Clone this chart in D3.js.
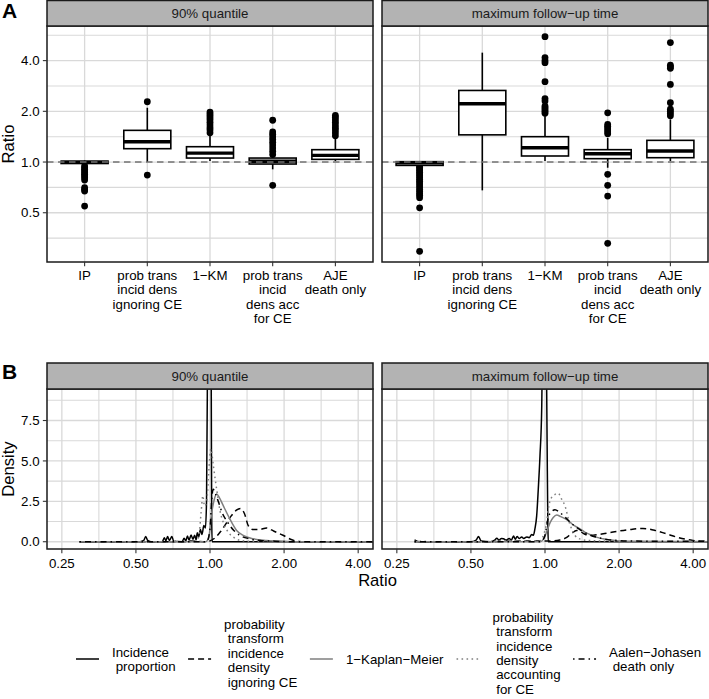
<!DOCTYPE html>
<html><head><meta charset="utf-8">
<script src="https://cdn.jsdelivr.net/npm/d3@7"></script>
<style>body{margin:0;background:#fff} svg{display:block} text{font-family:"Liberation Sans",Arial,Helvetica,sans-serif}</style>
</head><body>
<svg id="c" width="709" height="699"></svg>
<script>
// ---------------- DATA ----------------
const facets = ["90% quantile", "maximum follow\u2212up time"];
const categories = ["IP", "prob trans\nincid dens\nignoring CE", "1\u2212KM", "prob trans\nincid\ndens acc\nfor CE", "AJE\ndeath only"];
const yTicksA = [0.5, 1, 2, 4];
const yTickLabelsA = ["0.5", "1.0", "2.0", "4.0"];
const xTicksB = [0.25, 0.5, 1, 2, 4];
const xTickLabelsB = ["0.25", "0.50", "1.00", "2.00", "4.00"];
const yTicksB = [0, 2.5, 5, 7.5];
const yTickLabelsB = ["0.0", "2.5", "5.0", "7.5"];

// boxplot stats, 90% quantile facet (per category)
const lo_90  = [0.955, 1.0,   1.014, 0.905, 1.014];
const q1_90  = [0.980, 1.20,  1.056, 0.973, 1.037];
const med_90 = [0.995, 1.32,  1.13,  1.01,  1.095];
const q3_90  = [1.012, 1.542, 1.233, 1.056, 1.184];
const hi_90  = [1.02,  2.10,  1.46,  1.095, 1.395];
const out_90 = [
  [0.947, 0.925, 0.905, 0.885, 0.864, 0.845, 0.826, 0.807, 0.782, 0.704, 0.688, 0.673, 0.548],
  [2.28, 0.837],
  [1.98, 1.93, 1.88, 1.83, 1.78, 1.72, 1.66, 1.60, 1.55, 1.49],
  [1.77, 1.51, 1.46, 1.41, 1.36, 1.31, 1.26, 1.21, 1.16, 1.11, 0.727],
  [1.89, 1.84, 1.78, 1.72, 1.66, 1.60, 1.55, 1.49, 1.43]
];
// boxplot stats, maximum follow-up time facet
const lo_max  = [0.94,  0.679, 1.014, 0.925, 1.014];
const q1_max  = [0.955, 1.45,  1.086, 1.047, 1.061];
const med_max = [0.99,  2.22,  1.216, 1.12,  1.162];
const q3_max  = [1.005, 2.66,  1.414, 1.184, 1.345];
const hi_max  = [1.01,  4.46,  1.92,  1.39,  1.79];
const out_max = [
  [0.947, 0.93, 0.91, 0.89, 0.87, 0.85, 0.83, 0.81, 0.79, 0.77, 0.75, 0.73, 0.71, 0.69, 0.67, 0.65, 0.635, 0.614, 0.535, 0.295],
  [],
  [1.95, 2.0, 2.05, 2.1, 2.15, 2.30, 2.38, 3.0, 3.89, 4.01, 4.17, 5.55],
  [1.96, 1.67, 1.63, 1.59, 1.55, 1.51, 1.47, 0.845, 0.727, 0.628, 0.329],
  [1.88, 1.94, 2.0, 2.06, 2.25, 2.89, 3.6, 3.68, 3.76, 5.12]
];

// density curves [ratio, density], 90% quantile facet
const dens90_IP = [[0.295,0],[0.52,0],[0.538,0.08],[0.548,0.33],[0.558,0.08],[0.575,0],[0.64,0],[0.652,0.25],[0.662,0.06],[0.672,0.32],[0.684,0.08],[0.700,0.33],[0.712,0.03],[0.77,0],[0.785,0.22],[0.797,0.05],[0.81,0.35],[0.822,0.1],[0.838,0.42],[0.852,0.15],[0.866,0.4],[0.878,0.12],[0.888,0.55],[0.9,0.3],[0.914,0.75],[0.928,0.45],[0.944,1.0],[0.958,0.85],[0.968,2.5],[0.975,9.0],[0.982,20],[0.995,30],[1.006,20],[1.012,9],[1.016,1.5],[1.02,0],[5.55,0]];
const dens90_PTign = [[0.295,0],[0.8,0],[0.837,0.05],[0.9,0.02],[0.98,0],[1.0,0.05],[1.04,0.2],[1.1,0.6],[1.16,1.1],[1.22,1.6],[1.28,1.95],[1.33,2.05],[1.38,1.75],[1.43,1.0],[1.5,0.75],[1.58,0.75],[1.7,0.85],[1.82,0.65],[1.98,0.4],[2.15,0.12],[2.3,0.02],[2.45,0],[5.55,0]];
const dens90_KM = [[0.295,0],[0.96,0],[0.99,0.3],[1.01,1.5],[1.04,2.6],[1.065,2.95],[1.09,2.75],[1.132,2.23],[1.205,1.4],[1.283,0.7],[1.364,0.39],[1.5,0.18],[1.7,0.08],[2.0,0.03],[2.3,0],[5.55,0]];
const dens90_PTacc = [[0.295,0],[0.7,0],[0.727,0.05],[0.75,0],[0.86,0],[0.9,0.3],[0.92,1.8],[0.935,2.85],[0.95,2.2],[0.97,2.5],[0.99,4.5],[1.008,5.75],[1.03,4.8],[1.05,3.86],[1.074,2.84],[1.098,1.92],[1.132,1.2],[1.186,0.59],[1.243,0.29],[1.32,0.09],[1.45,0.03],[1.6,0.02],[1.8,0.01],[2.0,0],[5.55,0]];
const dens90_AJE = [[0.295,0],[0.97,0],[1.0,0.8],[1.015,2.5],[1.03,3.25],[1.05,3.0],[1.08,2.5],[1.12,1.8],[1.18,1.2],[1.25,0.7],[1.32,0.4],[1.45,0.18],[1.6,0.08],[1.8,0.04],[2.0,0.01],[2.2,0],[5.55,0]];
// density curves, maximum follow-up time facet
const densMax_IP = [[0.295,0.12],[0.31,0],[0.5,0],[0.525,0.1],[0.537,0.33],[0.55,0.05],[0.6,0],[0.625,0.1],[0.637,0.22],[0.65,0.1],[0.665,0.2],[0.678,0.18],[0.695,0.1],[0.715,0.2],[0.73,0.1],[0.745,0.35],[0.758,0.15],[0.77,0.33],[0.785,0.2],[0.804,0.3],[0.82,0.2],[0.843,0.3],[0.862,0.25],[0.883,0.45],[0.897,0.4],[0.91,0.8],[0.925,1.6],[0.939,3.25],[0.954,5.3],[0.97,8.4],[0.98,14],[0.99,20],[1.0,20],[1.01,14],[1.02,6],[1.027,1],[1.031,0],[5.55,0]];
const densMax_PTign = [[0.295,0],[0.6,0],[0.68,0.03],[0.8,0.04],[0.95,0.05],[1.05,0.05],[1.15,0.1],[1.22,0.25],[1.28,0.5],[1.344,0.7],[1.4,0.6],[1.46,0.45],[1.52,0.4],[1.65,0.45],[1.89,0.6],[2.2,0.75],[2.5,0.82],[2.8,0.7],[3.11,0.49],[3.5,0.25],[3.99,0.08],[4.4,0.03],[5.0,0.01],[5.55,0]];
const densMax_KM = [[0.295,0],[0.96,0],[0.99,0.2],[1.02,0.7],[1.05,1.2],[1.08,1.5],[1.115,1.66],[1.16,1.55],[1.2,1.45],[1.243,1.31],[1.3,1.05],[1.386,0.8],[1.45,0.6],[1.52,0.45],[1.6,0.3],[1.72,0.18],[1.85,0.1],[2.0,0.05],[2.3,0.03],[3.0,0.02],[4.0,0.01],[5.55,0]];
const densMax_PTacc = [[0.295,0],[0.32,0.03],[0.34,0],[0.6,0],[0.628,0.04],[0.727,0.04],[0.845,0.05],[0.95,0.05],[0.99,0.5],[1.016,1.21],[1.031,2.02],[1.048,2.53],[1.064,2.74],[1.088,2.88],[1.132,3.0],[1.168,2.64],[1.205,2.23],[1.255,1.2],[1.29,0.7],[1.323,0.39],[1.4,0.15],[1.5,0.08],[1.6,0.06],[1.8,0.03],[2.0,0.01],[2.2,0],[5.55,0]];
const densMax_AJE = [[0.295,0],[0.96,0],[0.98,0.1],[1.0,0.4],[1.031,1.5],[1.064,1.86],[1.098,1.98],[1.14,1.85],[1.2,1.55],[1.3,1.05],[1.4,0.7],[1.5,0.45],[1.65,0.25],[1.8,0.13],[2.0,0.07],[2.3,0.04],[2.9,0.03],[3.7,0.03],[5.12,0.01],[5.55,0]];

const legendLabels = ["Incidence\n proportion", "probability\n transform\n incidence\n density\n ignoring CE", "1\u2212Kaplan\u2212Meier", "probability\n transform\n incidence\n density\n accounting\n for CE", "Aalen\u2212Johasen\n death only"];

// ---------------- STYLE / LAYOUT ----------------
const seriesStyle = [
  {color:"#000000", dash:null},
  {color:"#000000", dash:"6,4"},
  {color:"#7f7f7f", dash:null},
  {color:"#7f7f7f", dash:"1.6,3.4"},
  {color:"#000000", dash:"1.5,4,6,4"}
];
const panelX = [[47, 373], [382, 708]];
const A = {stripTop: 0.5, top: 26, bottom: 262};
const B = {stripTop: 363, top: 389, bottom: 549};
const gridCol = "#d9d9d9", stripFill = "#b3b3b3", borderCol = "#1a1a1a";
const tickFs = 13.3, titleFs = 16.6, tickLen = 4.15;

const svg = d3.select("#c");
const defs = svg.append("defs");

const boxStats = [
  {lo: lo_90, q1: q1_90, med: med_90, q3: q3_90, hi: hi_90, out: out_90},
  {lo: lo_max, q1: q1_max, med: med_max, q3: q3_max, hi: hi_max, out: out_max}
];
const densities = [
  [dens90_IP, dens90_PTign, dens90_KM, dens90_PTacc, dens90_AJE],
  [densMax_IP, densMax_PTign, densMax_KM, densMax_PTacc, densMax_AJE]
];

function logMids(ticks, lo, hi) {
  const ext = [ticks[0] / 2, ...ticks, ticks[ticks.length - 1] * 2];
  return d3.pairs(ext).map(([a, b]) => Math.sqrt(a * b)).filter(v => v > lo && v < hi);
}
function linMids(ticks, lo, hi) {
  const st = ticks[1] - ticks[0];
  const ext = [ticks[0] - st, ...ticks, ticks[ticks.length - 1] + st];
  return d3.pairs(ext).map(([a, b]) => (a + b) / 2).filter(v => v > lo && v < hi);
}
function strip(x0, x1, y0, y1, label) {
  svg.append("rect").attr("x", x0).attr("y", y0).attr("width", x1 - x0).attr("height", y1 - y0)
    .attr("fill", stripFill).attr("stroke", borderCol).attr("stroke-width", 1.5);
  svg.append("text").attr("x", (x0 + x1) / 2).attr("y", (y0 + y1) / 2 + 4.7)
    .attr("text-anchor", "middle").attr("font-size", tickFs).attr("fill", "#1a1a1a").text(label);
}

const yDomA = [0.255, 6.42];
const xDomB = [0.2176, 4.595];
const yDomB = [-0.45, 9.45];

facets.forEach((facet, fi) => {
  const [x0, x1] = panelX[fi];
  // ======== Panel A (boxplots) ========
  const xA = d3.scalePoint().domain(categories).range([x0, x1]).padding(0.6);
  const yA = d3.scaleLog().base(2).domain(yDomA).range([A.bottom, A.top]);
  const gA = svg.append("g");
  gA.append("rect").attr("x", x0).attr("y", A.top).attr("width", x1 - x0).attr("height", A.bottom - A.top).attr("fill", "#fff");
  logMids(yTicksA, yDomA[0], yDomA[1]).forEach(v => {
    gA.append("line").attr("x1", x0).attr("x2", x1).attr("y1", yA(v)).attr("y2", yA(v)).attr("stroke", gridCol).attr("stroke-width", 1.1);
  });
  yTicksA.forEach(v => {
    gA.append("line").attr("x1", x0).attr("x2", x1).attr("y1", yA(v)).attr("y2", yA(v)).attr("stroke", gridCol).attr("stroke-width", 1.3);
  });
  categories.forEach(c => {
    gA.append("line").attr("x1", xA(c)).attr("x2", xA(c)).attr("y1", A.top).attr("y2", A.bottom).attr("stroke", gridCol).attr("stroke-width", 1.3);
  });
  const st = boxStats[fi];
  const bw = xA.step() * 0.75;
  categories.forEach((c, ci) => {
    const cx = xA(c);
    st.out[ci].forEach(v => {
      gA.append("circle").attr("cx", cx).attr("cy", yA(v)).attr("r", 3.4).attr("fill", "#000");
    });
    gA.append("line").attr("x1", cx).attr("x2", cx).attr("y1", yA(st.q3[ci])).attr("y2", yA(st.hi[ci])).attr("stroke", "#000").attr("stroke-width", 1.6);
    gA.append("line").attr("x1", cx).attr("x2", cx).attr("y1", yA(st.q1[ci])).attr("y2", yA(st.lo[ci])).attr("stroke", "#000").attr("stroke-width", 1.6);
    gA.append("rect").attr("x", cx - bw / 2).attr("y", yA(st.q3[ci])).attr("width", bw)
      .attr("height", yA(st.q1[ci]) - yA(st.q3[ci])).attr("fill", "#fff").attr("stroke", "#000").attr("stroke-width", 1.6);
    gA.append("line").attr("x1", cx - bw / 2).attr("x2", cx + bw / 2).attr("y1", yA(st.med[ci])).attr("y2", yA(st.med[ci])).attr("stroke", "#000").attr("stroke-width", 3.4);
  });
  gA.append("line").attr("x1", x0).attr("x2", x1).attr("y1", yA(1)).attr("y2", yA(1))
    .attr("stroke", "#737373").attr("stroke-width", 1.5).attr("stroke-dasharray", "6.5,4.5");
  gA.append("rect").attr("x", x0).attr("y", A.top).attr("width", x1 - x0).attr("height", A.bottom - A.top)
    .attr("fill", "none").attr("stroke", borderCol).attr("stroke-width", 1.5);
  strip(x0, x1, A.stripTop, A.top, facet);
  // x axis ticks + labels
  categories.forEach(c => {
    svg.append("line").attr("x1", xA(c)).attr("x2", xA(c)).attr("y1", A.bottom).attr("y2", A.bottom + tickLen).attr("stroke", "#333").attr("stroke-width", 1.1);
    const t = svg.append("text").attr("text-anchor", "middle").attr("font-size", tickFs).attr("fill", "#000");
    c.split("\n").forEach((ln, li) => {
      t.append("tspan").attr("x", xA(c)).attr("y", 280 + li * 14.4).text(ln);
    });
  });
  if (fi === 0) {
    yTicksA.forEach((v, i) => {
      svg.append("line").attr("x1", x0 - tickLen).attr("x2", x0).attr("y1", yA(v)).attr("y2", yA(v)).attr("stroke", "#333").attr("stroke-width", 1.1);
      svg.append("text").attr("x", x0 - tickLen - 3.3).attr("y", yA(v) + 4.7).attr("text-anchor", "end").attr("font-size", tickFs).attr("fill", "#000").text(yTickLabelsA[i]);
    });
  }

  // ======== Panel B (densities) ========
  const xB = d3.scaleLog().base(2).domain(xDomB).range([x0, x1]);
  const yB = d3.scaleLinear().domain(yDomB).range([B.bottom, B.top]);
  const gB = svg.append("g");
  gB.append("rect").attr("x", x0).attr("y", B.top).attr("width", x1 - x0).attr("height", B.bottom - B.top).attr("fill", "#fff");
  logMids(xTicksB, xDomB[0], xDomB[1]).forEach(v => {
    gB.append("line").attr("x1", xB(v)).attr("x2", xB(v)).attr("y1", B.top).attr("y2", B.bottom).attr("stroke", gridCol).attr("stroke-width", 1.1);
  });
  linMids(yTicksB, yDomB[0], yDomB[1]).forEach(v => {
    gB.append("line").attr("x1", x0).attr("x2", x1).attr("y1", yB(v)).attr("y2", yB(v)).attr("stroke", gridCol).attr("stroke-width", 1.1);
  });
  xTicksB.forEach(v => {
    gB.append("line").attr("x1", xB(v)).attr("x2", xB(v)).attr("y1", B.top).attr("y2", B.bottom).attr("stroke", gridCol).attr("stroke-width", 1.3);
  });
  yTicksB.forEach(v => {
    gB.append("line").attr("x1", x0).attr("x2", x1).attr("y1", yB(v)).attr("y2", yB(v)).attr("stroke", gridCol).attr("stroke-width", 1.3);
  });
  const cid = "clipB" + fi;
  defs.append("clipPath").attr("id", cid).append("rect").attr("x", x0).attr("y", B.top).attr("width", x1 - x0).attr("height", B.bottom - B.top);
  const gl = gB.append("g").attr("clip-path", `url(#${cid})`);
  const line = d3.line().x(d => xB(d[0])).y(d => yB(d[1])).curve(d3.curveMonotoneX);
  densities[fi].forEach((ser, si) => {
    const p = gl.append("path").attr("d", line(ser)).attr("fill", "none")
      .attr("stroke", seriesStyle[si].color).attr("stroke-width", 1.5).attr("stroke-linejoin", "round");
    if (seriesStyle[si].dash) p.attr("stroke-dasharray", seriesStyle[si].dash);
  });
  gB.append("rect").attr("x", x0).attr("y", B.top).attr("width", x1 - x0).attr("height", B.bottom - B.top)
    .attr("fill", "none").attr("stroke", borderCol).attr("stroke-width", 1.5);
  strip(x0, x1, B.stripTop, B.top, facet);
  xTicksB.forEach((v, i) => {
    svg.append("line").attr("x1", xB(v)).attr("x2", xB(v)).attr("y1", B.bottom).attr("y2", B.bottom + tickLen).attr("stroke", "#333").attr("stroke-width", 1.1);
    svg.append("text").attr("x", xB(v)).attr("y", 567.5).attr("text-anchor", "middle").attr("font-size", tickFs).attr("fill", "#000").text(xTickLabelsB[i]);
  });
  if (fi === 0) {
    yTicksB.forEach((v, i) => {
      svg.append("line").attr("x1", x0 - tickLen).attr("x2", x0).attr("y1", yB(v)).attr("y2", yB(v)).attr("stroke", "#333").attr("stroke-width", 1.1);
      svg.append("text").attr("x", x0 - tickLen - 3.3).attr("y", yB(v) + 4.7).attr("text-anchor", "end").attr("font-size", tickFs).attr("fill", "#000").text(yTickLabelsB[i]);
    });
  }
});

// axis titles
svg.append("text").attr("transform", `translate(13.5,${(A.top + A.bottom) / 2}) rotate(-90)`).attr("text-anchor", "middle").attr("font-size", titleFs).text("Ratio");
svg.append("text").attr("transform", `translate(13.5,${(B.top + B.bottom) / 2}) rotate(-90)`).attr("text-anchor", "middle").attr("font-size", titleFs).text("Density");
svg.append("text").attr("x", (panelX[0][0] + panelX[1][1]) / 2).attr("y", 586).attr("text-anchor", "middle").attr("font-size", titleFs).text("Ratio");
// panel tags
svg.append("text").attr("x", 2).attr("y", 17.5).attr("font-size", 21).attr("font-weight", "bold").text("A");
svg.append("text").attr("x", 2).attr("y", 378.5).attr("font-size", 21).attr("font-weight", "bold").text("B");

// legend
const keyY = 659, keyW = 23, keyGap = 13, itemGap = 12.5, pitch = 14.4;
let lx = 76;
legendLabels.forEach((lab, i) => {
  const k = svg.append("line").attr("x1", lx).attr("x2", lx + keyW).attr("y1", keyY).attr("y2", keyY)
    .attr("stroke", seriesStyle[i].color).attr("stroke-width", 1.5);
  if (seriesStyle[i].dash) k.attr("stroke-dasharray", seriesStyle[i].dash);
  const lines = lab.split("\n");
  const n = lines.length;
  const cy = keyY + (n > 2 ? -6 : 0);
  const t = svg.append("text").attr("font-size", tickFs).attr("fill", "#000");
  lines.forEach((ln, li) => {
    t.append("tspan").attr("x", lx + keyW + keyGap).attr("y", cy + (li - (n - 1) / 2) * pitch + 4.7)
      .text(ln.replace(/^ /, "\u00a0"));
  });
  const w = t.node().getBBox().width;
  lx = lx + keyW + keyGap + w + itemGap;
});
</script>
</body></html>
